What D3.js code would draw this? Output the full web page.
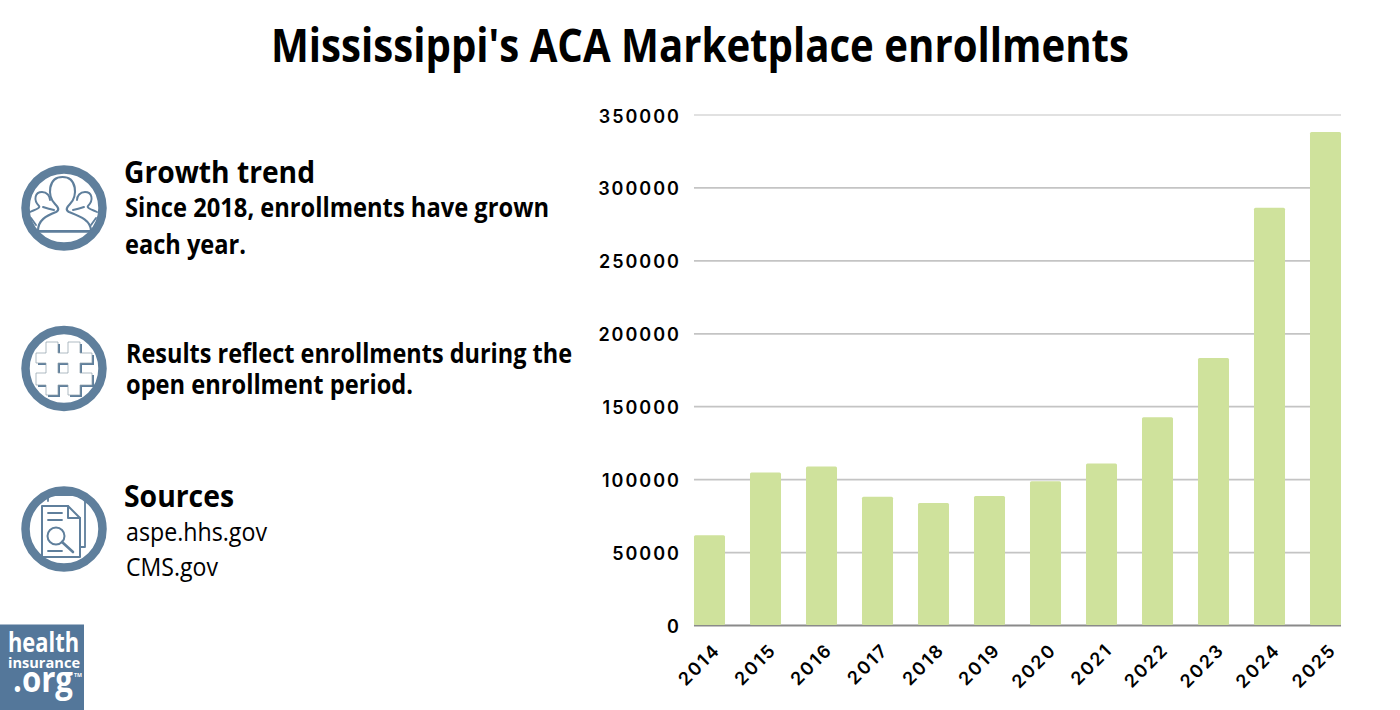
<!DOCTYPE html>
<html><head><meta charset="utf-8">
<script src="https://cdn.jsdelivr.net/npm/d3@7"></script>
<style>html,body{margin:0;padding:0;background:#fff}svg{display:block}
text{font-family:"Open Sans",sans-serif;fill:#000}
.tick text{font-family:Inter,sans-serif;font-weight:600;font-size:18px;letter-spacing:2px}</style>
</head><body><svg id="c" width="1400" height="710"></svg>
<script>
const years=["2014","2015","2016","2017","2018","2019","2020","2021","2022","2023","2024","2025"];
const enrollments=[61500,104500,108700,88000,83600,88500,98500,110800,142500,183000,286000,338000];
const yTicks=[0,50000,100000,150000,200000,250000,300000,350000];
const svg=d3.select("#c");
const blue="#5f7f9c", blueDark="#54779a";
const x=d3.scaleBand().domain(years).range([681.5,1353.5]).paddingInner(0.446).paddingOuter(0.223);
const y=d3.scaleLinear().domain([0,350000]).range([625,114.5]);

// gridlines
const gridL=x(years[0]), gridR=x(years[11])+x.bandwidth();
const yAxis=d3.axisLeft(y).tickValues(yTicks).tickFormat(d3.format("d")).tickSize(0).tickPadding(13);
const gy=svg.append("g").attr("transform",`translate(${gridL},0)`).call(yAxis);
gy.select(".domain").remove();
gy.selectAll(".tick text").attr("dy","1.3em").attr("dy",".42em");
gy.selectAll(".tick line").attr("x2",gridR-gridL).attr("stroke",d=>d===0?"#8a8a8a":"#c4c4c4").attr("stroke-width",d=>d===350000?1.1:1.8);
// bars
svg.append("g").selectAll("rect").data(enrollments).join("rect")
 .attr("x",(d,i)=>x(years[i])).attr("width",x.bandwidth())
 .attr("y",d=>y(d)).attr("height",d=>y(0)-y(d)).attr("rx",1.5).attr("fill","#cfe29c");
// x axis
const xAxis=d3.axisBottom(x).tickSize(0).tickPadding(0);
const gx=svg.append("g").attr("transform","translate(0,625)").call(xAxis);
gx.select(".domain").remove();
gx.selectAll(".tick text").attr("text-anchor","end").attr("dy",0)
 .attr("transform","translate(12,26) rotate(-45)");

// title
const adj=(e,len)=>e.attr("textLength",len).attr("lengthAdjust","spacingAndGlyphs");
adj(svg.append("text").attr("x",700).attr("y",62).attr("text-anchor","middle").attr("font-weight",700).attr("font-size",46).text("Mississippi's ACA Marketplace enrollments"),858);

// left text
const t=(s,xx,yy,fs,w,len)=>adj(svg.append("text").attr("x",xx).attr("y",yy).attr("font-size",fs).attr("font-weight",w).text(s),len);
t("Growth trend",124,183,30,700,191);
t("Since 2018, enrollments have grown",125,217,26,700,424);
t("each year.",125,254,26,700,121);
t("Results reflect enrollments during the",126,363,26,700,446);
t("open enrollment period.",126,394,26,700,287);
t("Sources",124,507,30,700,110);
t("aspe.hhs.gov",126,541,26,400,141);
t("CMS.gov",126,576,26,400,92);

// icon rings
const ring=(cx,cy)=>svg.append("circle").attr("cx",cx).attr("cy",cy).attr("r",38.5).attr("fill","#fff").attr("stroke",blue).attr("stroke-width",8.5);
[208,368.5,529].forEach(cy=>ring(64,cy));
const line=(g,d,w)=>g.append("path").attr("d",d).attr("fill","none").attr("stroke",blue).attr("stroke-width",w||1.8).attr("stroke-linejoin","round").attr("stroke-linecap","round");

// people icon
const g1=svg.append("g").attr("transform","translate(0,150)");
const sideD="M30 62 C34 60 41 58 39 56 C33 50 35 42 42 42 C47 42 50 46 50 50 M43 57 C46 58 49 59 54 60 M31 68 L36 75";
line(g1,sideD,1.9);
line(g1.append("g").attr("transform","translate(127,0) scale(-1,1)"),sideD,1.9);
g1.append("path").attr("d","M38 81 C38 70 46 66 56 62 C60 60 58 57 55 54 C47 46 48 27 62.5 27 C77 27 78 46 70 54 C67 57 65 60 69 62 C79 66 91 70 91 81 Z").attr("fill","#fff").attr("stroke",blue).attr("stroke-width",2.2).attr("stroke-linejoin","round");
line(g1,"M34 81.5 L93 81.5",2.4);

// hash icon
const hash="M46 342 h12 v11 h10 v-11 h12 v11 h12 v10 h-12 v10 h12 v12 h-12 v10 h-12 v-10 h-10 v10 h-12 v-10 h-10 v-12 h10 v-10 h-10 v-10 h10 Z M58 363 h10 v10 h-10 Z";
svg.append("path").attr("d",hash).attr("transform","translate(2,2)").attr("fill",blue).attr("fill-rule","evenodd");
svg.append("path").attr("d",hash).attr("fill","#fff").attr("stroke","#8e9dab").attr("stroke-width",.7).attr("fill-rule","evenodd");

// document icon
const g3=svg.append("g").attr("transform","translate(0,470)");
line(g3,"M48 31 V25 H85 V77 H80",1.8);
line(g3,"M42 36 H68 L80 48 V87 H42 Z",2);
line(g3,"M68 36 V48 H80",2);
line(g3,"M48 43 H62 M48 50 H62 M48 81 H62",1.8);
g3.append("circle").attr("cx",56).attr("cy",66).attr("r",8.5).attr("fill","none").attr("stroke",blue).attr("stroke-width",2);
line(g3,"M62 72 L73 82",2.6);

// logo
svg.append("rect").attr("x",0).attr("y",624.5).attr("width",84).attr("height",85.5).attr("fill",blueDark);
const logo=(s,xx,yy,fs,len)=>adj(svg.append("text").attr("x",xx).attr("y",yy).attr("font-size",fs).attr("font-weight",700).style("font-family","'Open Sans',sans-serif").style("fill","#fff").text(s),len);
logo("health",8,652,26,71);
logo("insurance",8,668,14,72);
logo(".org",13,692,36,60);
logo("TM",74,677,4.5,8);
</script></body></html>
